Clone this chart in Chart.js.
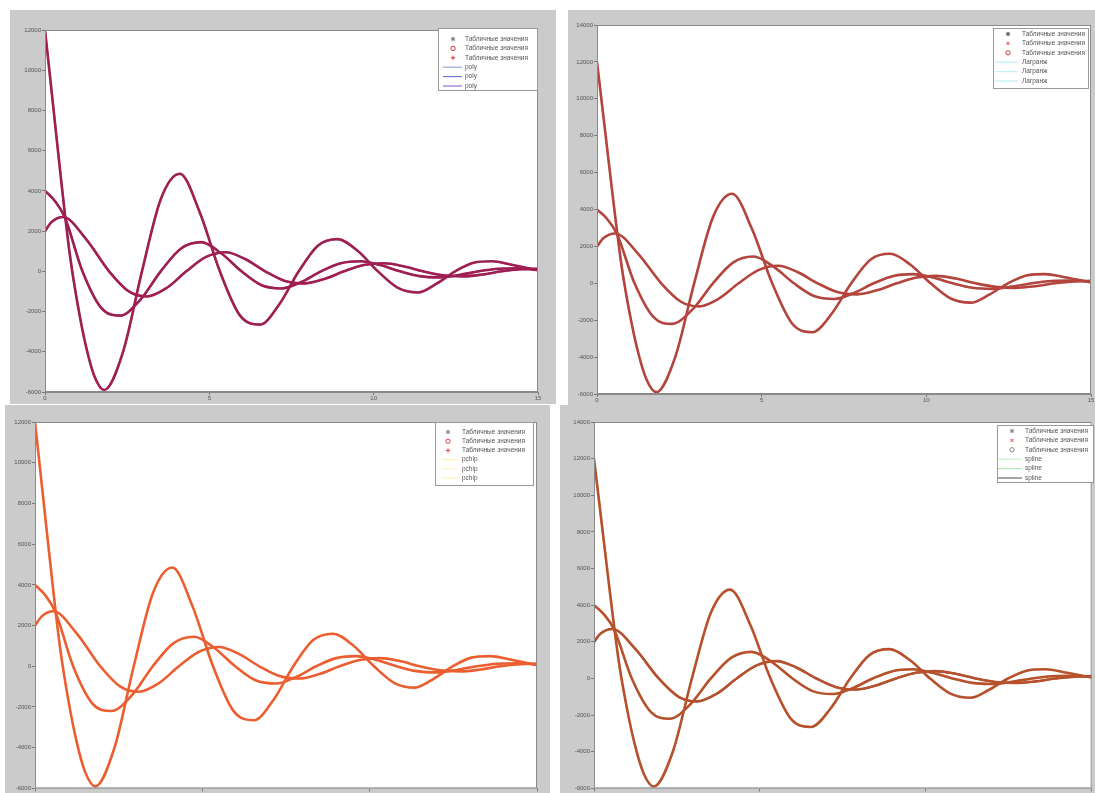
<!DOCTYPE html>
<html>
<head>
<meta charset="utf-8">
<script src="https://cdn.jsdelivr.net/npm/chart.js@4.4.1/dist/chart.umd.min.js"></script>
<style>
  body { margin: 0; background: #fff; width: 1095px; height: 793px; position: relative; overflow: hidden; }
  .p { position: absolute; background: #cbcbcb; }
</style>
</head>
<body>
<div class="p" style="left:10px;top:10px;width:546px;height:394px"><canvas id="c1"></canvas></div>
<div class="p" style="left:568px;top:10px;width:527px;height:395px"><canvas id="c2"></canvas></div>
<div class="p" style="left:5px;top:405px;width:545px;height:388px"><canvas id="c3"></canvas></div>
<div class="p" style="left:560px;top:405px;width:535px;height:388px"><canvas id="c4"></canvas></div>
<script>
// три кривые
const tA = [0, 0.25, 0.5, 0.75, 1.0, 1.25, 1.5, 1.8, 2.375, 2.95, 3.525, 4.1, 4.71, 5.32, 5.93, 6.54, 7.13, 7.72, 8.31, 8.9, 9.51, 10.13, 10.74, 11.35, 11.91, 12.48, 13.04, 13.6, 14.2, 15];
const yA = [12000, 8200, 4400, 900, -1700, -3750, -5200, -5900, -4000, 0, 3600, 4850, 2930, 0, -2190, -2650, -1640, 0, 1290, 1600, 1020, 0, -825, -1050, -615, 0, 425, 500, 330, 50];

const tB = [0, 0.3, 0.6, 1.14, 1.71, 2.28, 2.9, 3.52, 4.13, 4.75, 5.36, 5.98, 6.59, 7.2, 7.8, 8.4, 9.0, 9.6, 10.2, 10.8, 11.4, 12.0, 12.6, 13.2, 13.8, 14.4, 15];
const yB = [4000, 3500, 2700, 0, -1820, -2200, -1415, 0, 1125, 1450, 900, 0, -690, -850, -525, 0, 400, 500, 310, 0, -240, -300, -180, 0, 125, 150, 80];

const tC = [0, 0.2, 0.55, 1.25, 1.95, 2.55, 3.1, 3.7, 4.3, 4.9, 5.5, 6.1, 6.7, 7.3, 7.9, 8.5, 9.1, 9.7, 10.3, 10.9, 11.5, 12.1, 12.7, 13.3, 13.9, 14.5, 15];
const yC = [2000, 2450, 2700, 1600, 0, -1000, -1250, -830, 0, 715, 950, 600, 0, -475, -600, -380, 0, 310, 400, 255, 0, -195, -250, -160, 0, 100, 130];

const xTicks = [0, 5, 10, 15];
const markLabel = 'Табличные значения';
const lineLabels = ['poly', 'Лагранж', 'pchip', 'spline'];

const pts = (ts, ys) => ts.map((t, i) => ({ x: t, y: ys[i] }));
const curves = [pts(tA, yA), pts(tB, yB), pts(tC, yC)];

const panels = [
  { id: 'c1', yMin: -6000, yMax: 12000, core: '#a01f50', lines: ['#9aa8cc', '#6a7ad8', '#9a6ad0'],
    marks: [['star', '#777'], ['circle', '#d03030'], ['cross', '#d03030']],
    area: { left: 35, top: 20, right: 18, bottom: 12 },
    lg: { x: 428, y: 18, w: 99, h: 62, r0: 11, step: 9.4, mx: 15, l0: 5, l1: 24, tx: 27 } },
  { id: 'c2', yMin: -6000, yMax: 14000, core: '#b5443c', lines: ['#bfeff5', '#c4f2f8', '#bfeff5'],
    marks: [['star', '#555'], ['crossRot', '#d03030'], ['circle', '#c04040']],
    area: { left: 29, top: 15, right: 4, bottom: 11 },
    lg: { x: 425, y: 18, w: 95, h: 60, r0: 6, step: 9.4, mx: 15, l0: 2, l1: 25, tx: 29 } },
  { id: 'c3', yMin: -6000, yMax: 12000, core: '#ec5e32', lines: ['#fff0b8', '#fff3c4', '#fff0b8'],
    marks: [['star', '#888'], ['circle', '#e04040'], ['cross', '#e04040']],
    area: { left: 30, top: 17, right: 13, bottom: 3 },
    lg: { x: 430, y: 17, w: 98, h: 63, r0: 10, step: 9.2, mx: 13, l0: 7, l1: 23, tx: 27 } },
  { id: 'c4', yMin: -6000, yMax: 14000, core: '#b8502c', lines: ['#c8f0c8', '#b8ecb8', '#606870'],
    marks: [['star', '#888'], ['crossRot', '#e04040'], ['circle', '#7a8a70']],
    area: { left: 34, top: 17, right: 2, bottom: 2 },
    lg: { x: 437, y: 20, w: 96, h: 57, r0: 6, step: 9.4, mx: 15, l0: 1, l1: 25, tx: 28 } }
];

const FONT = 'Liberation Sans, Arial, sans-serif';

panels.forEach((p, k) => {
  const datasets = [];
  curves.forEach((c, i) => datasets.push({
    label: markLabel, data: c, borderColor: p.core, borderWidth: 2.6,
    pointRadius: 0, cubicInterpolationMode: 'monotone', order: 0,
    mark: p.marks[i]
  }));
  curves.forEach((c, i) => datasets.push({
    label: lineLabels[k], data: c, borderColor: p.lines[i], borderWidth: 2,
    pointRadius: 0, cubicInterpolationMode: 'monotone', order: 1
  }));

  const framePlugin = {
    id: 'frame' + k,
    beforeDatasetsDraw(chart) {
      const a = chart.chartArea, ctx = chart.ctx;
      ctx.save();
      ctx.fillStyle = '#fff';
      ctx.fillRect(a.left, a.top, a.right - a.left, a.bottom - a.top);
      ctx.restore();
    },
    afterDraw(chart) {
      const a = chart.chartArea, ctx = chart.ctx, g = p.lg;
      ctx.save();
      ctx.strokeStyle = '#8a8a8a';
      ctx.lineWidth = 1;
      ctx.strokeRect(a.left + 0.5, a.top + 0.5, a.right - a.left - 1, a.bottom - a.top - 1);
      // легенда
      ctx.fillStyle = '#fff';
      ctx.fillRect(g.x, g.y, g.w, g.h);
      ctx.strokeStyle = '#9a9a9a';
      ctx.strokeRect(g.x + 0.5, g.y + 0.5, g.w, g.h);
      ctx.font = '6.5px ' + FONT;
      ctx.textBaseline = 'middle';
      chart.data.datasets.forEach((ds, i) => {
        const y = g.y + g.r0 + i * g.step;
        if (ds.mark) {
          ctx.strokeStyle = ds.mark[1];
          ctx.fillStyle = 'rgba(0,0,0,0)';
          Chart.helpers.drawPoint(ctx, { pointStyle: ds.mark[0], radius: 2.2, borderWidth: 0.8 }, g.x + g.mx, y);
        } else {
          ctx.strokeStyle = ds.borderColor;
          ctx.lineWidth = 1.2;
          ctx.beginPath();
          ctx.moveTo(g.x + g.l0, y);
          ctx.lineTo(g.x + g.l1, y);
          ctx.stroke();
        }
        ctx.fillStyle = '#555';
        ctx.fillText(ds.label, g.x + g.tx, y);
      });
      ctx.restore();
    }
  };

  new Chart(document.getElementById(p.id), {
    type: 'line',
    data: { datasets },
    options: {
      responsive: true,
      maintainAspectRatio: false,
      animation: false,
      layout: { padding: { top: p.area.top, right: p.area.right, left: 0, bottom: 0 } },
      plugins: { legend: { display: false }, tooltip: { enabled: false } },
      scales: {
        x: {
          type: 'linear', min: 0, max: 15,
          afterBuildTicks: s => { s.ticks = xTicks.map(v => ({ value: v })); },
          afterFit: s => { s.height = p.area.bottom; },
          grid: { drawOnChartArea: false, tickLength: 3, color: '#777' },
          border: { color: '#888' },
          ticks: { padding: 0, color: '#555', font: { size: 6, family: FONT } }
        },
        y: {
          min: p.yMin, max: p.yMax,
          afterFit: s => { s.width = p.area.left; },
          grid: { drawOnChartArea: false, tickLength: 3, color: '#777' },
          border: { color: '#888' },
          ticks: { stepSize: 2000, padding: 1, color: '#555', font: { size: 6, family: FONT },
                   callback: v => String(v) }
        }
      }
    },
    plugins: [framePlugin]
  });
});
</script>
</body>
</html>
